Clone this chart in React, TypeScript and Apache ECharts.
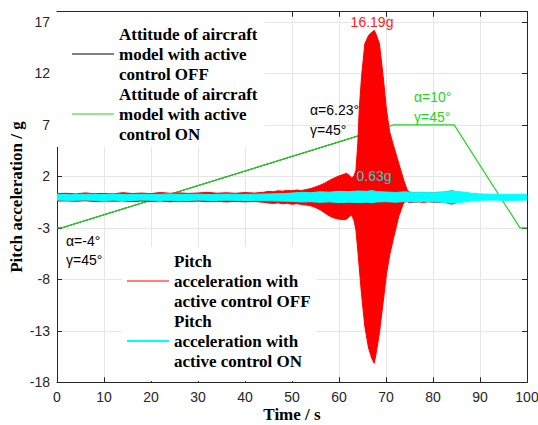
import React, { useEffect, useRef } from 'react';
import * as echarts from 'echarts';

// ---- Data ----
const offAttitudeTime = [0, 1, 64, 75];
const offAttitudeValue = [-3, -3, 5.92, 0.2];

const onAttitudeTime = [0, 1, 71.6, 84.5, 98.5, 100];
const onAttitudeValue = [-3, -3, 7, 7, -3, -3];

const redTime = [0, 2, 4, 6, 8, 10, 12, 14, 16, 18, 20, 22, 24, 26, 28, 30, 32, 34, 36, 38, 40, 42, 44, 45, 46, 47, 48, 49, 50, 51, 52, 53, 54, 55, 56, 57, 58, 59, 60, 61, 61.6, 62.2, 62.7, 63.2, 63.6, 64.0, 64.3, 64.8, 65.5, 66.3, 67.0, 67.5, 67.9, 68.6, 69.4, 70.1, 70.8, 71.6, 72.7, 73.8, 74.5, 75, 76, 77, 78, 79, 80, 81, 82, 83, 84, 85];
const redUpper = [0.33, 0.36, 0.30, 0.40, 0.32, 0.35, 0.31, 0.42, 0.34, 0.38, 0.33, 0.44, 0.36, 0.40, 0.35, 0.39, 0.45, 0.37, 0.41, 0.36, 0.43, 0.38, 0.46, 0.55, 0.50, 0.60, 0.57, 0.64, 0.60, 0.68, 0.63, 0.72, 0.82, 0.98, 1.15, 1.35, 1.62, 1.85, 2.05, 2.2, 2.3, 2.1, 1.85, 2.05, 2.6, 5.2, 8.45, 11.7, 14.9, 15.7, 16.0, 16.19, 15.8, 14.9, 11.7, 8.45, 6.3, 5.0, 3.3, 1.6, 0.7, 0.48, 0.42, 0.45, 0.40, 0.44, 0.38, 0.46, 0.41, 0.50, 0.62, 0.45];
const redLower = [-0.40, -0.38, -0.42, -0.37, -0.44, -0.39, -0.41, -0.38, -0.45, -0.40, -0.43, -0.39, -0.47, -0.41, -0.44, -0.40, -0.46, -0.42, -0.48, -0.43, -0.47, -0.44, -0.52, -0.58, -0.62, -0.57, -0.66, -0.61, -0.70, -0.65, -0.72, -0.78, -0.86, -1.02, -1.25, -1.55, -1.85, -2.05, -2.15, -2.2, -2.15, -1.9, -1.75, -2.3, -3.2, -5.2, -6.8, -9.5, -12.6, -14.7, -15.7, -16.16, -15.2, -13.2, -10.2, -7.5, -5.6, -4.0, -1.9, -0.5, -0.45, -0.55, -0.50, -0.48, -0.52, -0.47, -0.50, -0.54, -0.49, -0.58, -0.70, -0.55];

const cyanTime = [0, 3, 6, 9, 12, 15, 18, 21, 24, 27, 30, 33, 36, 39, 42, 45, 48, 50, 52, 54, 56, 58, 60, 62, 64, 66, 67, 68, 70, 72, 74, 76, 78, 80, 82, 84, 86, 88, 90, 93, 96, 100];
const cyanUpper = [0.26, 0.22, 0.27, 0.24, 0.28, 0.23, 0.26, 0.25, 0.29, 0.24, 0.27, 0.23, 0.28, 0.25, 0.27, 0.30, 0.33, 0.38, 0.45, 0.42, 0.50, 0.47, 0.55, 0.52, 0.58, 0.55, 0.63, 0.52, 0.48, 0.44, 0.50, 0.42, 0.47, 0.40, 0.52, 0.60, 0.50, 0.38, 0.30, 0.27, 0.25, 0.27];
const cyanLower = [-0.30, -0.33, -0.29, -0.34, -0.31, -0.35, -0.30, -0.33, -0.32, -0.36, -0.30, -0.34, -0.31, -0.33, -0.35, -0.37, -0.40, -0.42, -0.48, -0.45, -0.52, -0.47, -0.55, -0.50, -0.54, -0.50, -0.56, -0.48, -0.45, -0.50, -0.44, -0.48, -0.42, -0.47, -0.50, -0.60, -0.52, -0.40, -0.32, -0.30, -0.33, -0.30];

const NAME_ATT_OFF = 'Attitude of aircraft model with active control OFF';
const NAME_ATT_ON = 'Attitude of aircraft model with active control ON';
const NAME_PA_OFF = 'Pitch acceleration with active control OFF';
const NAME_PA_ON = 'Pitch acceleration with active control ON';

const legendLines: Record<string, string> = {
  [NAME_ATT_OFF]: 'Attitude of aircraft\nmodel with active\ncontrol OFF',
  [NAME_ATT_ON]: 'Attitude of aircraft\nmodel with active\ncontrol ON',
  [NAME_PA_OFF]: 'Pitch\nacceleration with\nactive control OFF',
  [NAME_PA_ON]: 'Pitch\nacceleration with\nactive control ON',
};

const zip = (a: number[], b: number[]) => a.map((t, i) => [t, b[i]]);

const SERIF = 'Liberation Serif';
const SANS = 'Liberation Sans';
const GREEN = '#22d622';
const THIN_ICON = 'path://M0,0H42V1H0Z';
const THICK_ICON = 'path://M0,0H42V2H0Z';

export default function App() {
  const ref = useRef<HTMLDivElement>(null);
  useEffect(() => {
    if (!ref.current) return;
    const chart = echarts.init(ref.current, undefined, { renderer: 'svg' });
    const axisLine = { show: true, onZero: false, lineStyle: { color: '#262626', width: 1 } };
    const tick = { show: true, inside: true, length: 5, lineStyle: { color: '#262626' } };
    const legendText = {
      fontFamily: SERIF,
      fontWeight: 'bold' as const,
      fontSize: 17,
      lineHeight: 20,
      color: '#000',
    };
    const annot = (text: string, x: number, y: number, color: string, align = 'left') => ({
      type: 'text',
      x,
      y,
      z: 10,
      style: {
        text,
        fill: color,
        fontSize: 14,
        fontFamily: SANS,
        align,
        verticalAlign: 'middle',
      },
    });
    chart.setOption({
      animation: false,
      backgroundColor: '#fff',
      grid: { left: 57, right: 11, top: 11.7, bottom: 42.7, containLabel: false, outerBoundsMode: 'none' },
      xAxis: [
        {
          type: 'value',
          min: 0,
          max: 100,
          interval: 10,
          axisLine,
          axisTick: tick,
          axisLabel: { color: '#262626', fontSize: 14, fontFamily: SANS, margin: 8 },
          splitLine: { show: true, lineStyle: { color: '#e6e6e6', width: 1 } },
          name: 'Time / s',
          nameLocation: 'middle',
          nameGap: 24,
          nameMoveOverlap: false,
          nameTextStyle: { fontFamily: SERIF, fontWeight: 'bold', fontSize: 17, lineHeight: 17, color: '#000' },
        },
        {
          type: 'value',
          position: 'top',
          min: 0,
          max: 100,
          interval: 10,
          axisLine,
          axisTick: tick,
          axisLabel: { show: false },
          splitLine: { show: false },
        },
      ],
      yAxis: [
        {
          type: 'value',
          min: -18,
          max: 18,
          interval: 5,
          axisLine,
          axisTick: tick,
          axisLabel: { color: '#262626', fontSize: 14, fontFamily: SANS, margin: 7, showMaxLabel: false },
          splitLine: { show: true, lineStyle: { color: '#e6e6e6', width: 1 } },
          name: 'Pitch acceleration / g',
          nameLocation: 'middle',
          nameGap: 32,
          nameMoveOverlap: false,
          nameTextStyle: { fontFamily: SERIF, fontWeight: 'bold', fontSize: 17, color: '#000' },
        },
        {
          type: 'value',
          position: 'right',
          min: -18,
          max: 18,
          interval: 5,
          axisLine,
          axisTick: tick,
          axisLabel: { show: false },
          splitLine: { show: false },
        },
      ],
      legend: [
        {
          orient: 'vertical',
          left: 57,
          top: 12,
          padding: [12, 7, 3, 15],
          backgroundColor: '#fff',
          itemGap: 0,
          itemWidth: 42,
          itemHeight: 14,
          data: [
            { name: NAME_ATT_OFF, icon: THIN_ICON },
            { name: NAME_ATT_ON, icon: THIN_ICON },
          ],
          formatter: (n: string) => legendLines[n],
          textStyle: legendText,
        },
        {
          orient: 'vertical',
          left: 122,
          top: 247,
          padding: [4, 6, 10, 5],
          backgroundColor: '#fff',
          itemGap: 0,
          itemWidth: 42,
          itemHeight: 14,
          data: [
            { name: NAME_PA_OFF, icon: THIN_ICON },
            { name: NAME_PA_ON, icon: THICK_ICON },
          ],
          formatter: (n: string) => legendLines[n],
          textStyle: legendText,
        },
      ],
      series: [
        {
          name: NAME_ATT_OFF,
          type: 'line',
          symbol: 'none',
          data: zip(offAttitudeTime, offAttitudeValue),
          lineStyle: { color: '#000', width: 1 },
          itemStyle: { color: '#000' },
          z: 1,
        },
        {
          name: NAME_ATT_ON,
          type: 'line',
          symbol: 'none',
          data: zip(onAttitudeTime, onAttitudeValue),
          lineStyle: { color: GREEN, width: 1.2 },
          itemStyle: { color: GREEN },
          z: 2,
        },
        {
          name: NAME_PA_OFF,
          type: 'line',
          symbol: 'none',
          data: zip(redTime, redUpper),
          lineStyle: { color: '#ff0000', width: 1 },
          itemStyle: { color: '#ff0000' },
          areaStyle: { color: '#ff0000', opacity: 1, origin: 'auto' },
          z: 3,
        },
        {
          name: NAME_PA_OFF,
          type: 'line',
          symbol: 'none',
          data: zip(redTime, redLower),
          lineStyle: { color: '#ff0000', width: 1 },
          itemStyle: { color: '#ff0000' },
          areaStyle: { color: '#ff0000', opacity: 1, origin: 'auto' },
          z: 3,
        },
        {
          name: NAME_PA_ON,
          type: 'line',
          symbol: 'none',
          data: zip(cyanTime, cyanUpper),
          lineStyle: { color: '#00ffff', width: 1 },
          itemStyle: { color: '#00ffff' },
          areaStyle: { color: '#00ffff', opacity: 1, origin: 'auto' },
          z: 4,
        },
        {
          name: NAME_PA_ON,
          type: 'line',
          symbol: 'none',
          data: zip(cyanTime, cyanLower),
          lineStyle: { color: '#00ffff', width: 1 },
          itemStyle: { color: '#00ffff' },
          areaStyle: { color: '#00ffff', opacity: 1, origin: 'auto' },
          z: 4,
        },
      ],
      graphic: [
        annot('16.19g', 372, 22, '#ff2020', 'center'),
        annot('0.63g', 374, 176, '#33cccc', 'center'),
        annot('α=6.23°', 310, 110, '#000'),
        annot('γ=45°', 310, 129.5, '#000'),
        annot('α=10°', 414, 97, GREEN),
        annot('γ=45°', 414, 117, GREEN),
        annot('α=-4°', 66, 241, '#000'),
        annot('γ=45°', 66, 260, '#000'),
      ],
    });
    return () => chart.dispose();
  }, []);
  return <div ref={ref} style={{ position: 'absolute', left: 0, top: 0, width: 538, height: 425 }} />;
}
